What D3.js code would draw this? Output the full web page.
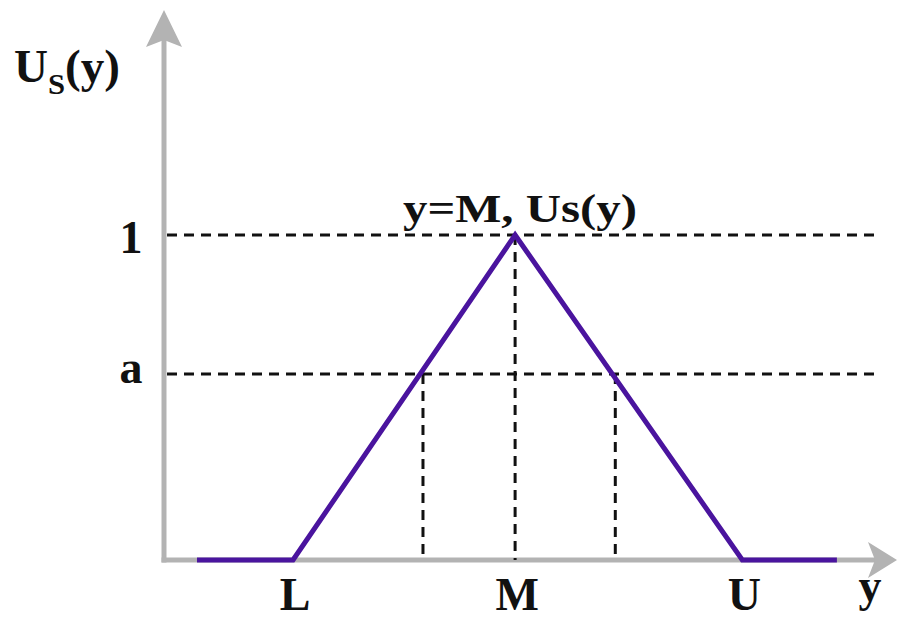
<!DOCTYPE html>
<html>
<head>
<meta charset="utf-8">
<script src="https://cdn.jsdelivr.net/npm/d3@7"></script>
<style>
  body { margin: 0; background: #fff; }
  svg text { font-family: "Liberation Serif", "Times New Roman", serif; font-weight: bold; fill: #111; }
</style>
</head>
<body>
<svg id="chart" width="898" height="624"></svg>
<script>
// membership function breakpoints (x in arbitrary units 0..100, y = membership)
const xs = [4.5, 17.6, 47.9, 78.9, 91.8]
const ys = [0, 0, 1, 0, 0]
const alpha = 0.572
const xTicks = [{label: 'L', v: 17.6}, {label: 'M', v: 47.9}, {label: 'U', v: 78.9}]
const yTicks = [{label: '1', v: 1}, {label: 'a', v: alpha}]

const svg = d3.select('#chart')
const x = d3.scaleLinear().domain([0, 100]).range([164, 897])
const y = d3.scaleLinear().domain([0, 1]).range([560, 235])

const axisColor = '#b3b3b3'
const purple = '#4a149e'

// axes
svg.append('line')
  .attr('x1', x(0)).attr('x2', x(0))
  .attr('y1', y(0) + 2.5).attr('y2', y(1.6))
  .attr('stroke', axisColor).attr('stroke-width', 5)
svg.append('path')
  .attr('d', `M${x(0)},10 L${x(0) - 18},47 L${x(0)},40 L${x(0) + 18},47 Z`)
  .attr('fill', axisColor)

svg.append('line')
  .attr('x1', x(0) - 2.5).attr('x2', x(98))
  .attr('y1', y(0)).attr('y2', y(0))
  .attr('stroke', axisColor).attr('stroke-width', 5)
svg.append('path')
  .attr('d', `M${x(100)},${y(0)} L${x(100) - 29},${y(0) - 18} L${x(100) - 22},${y(0)} L${x(100) - 29},${y(0) + 18} Z`)
  .attr('fill', axisColor)

// dashed guide lines
const dash = '10,7'
yTicks.forEach(t => {
  svg.append('line')
    .attr('x1', x(0) + 3).attr('x2', x(97))
    .attr('y1', y(t.v)).attr('y2', y(t.v))
    .attr('stroke', '#111').attr('stroke-width', 3)
    .attr('stroke-dasharray', dash)
})

// where the triangle crosses level a
const xa1 = xs[1] + alpha * (xs[2] - xs[1]) + 0.4
const xa2 = xs[3] - alpha * (xs[3] - xs[2]) + 0.4
;[[xa1, alpha], [xs[2], 1], [xa2, alpha]].forEach(([vx, vy]) => {
  svg.append('line')
    .attr('x1', x(vx)).attr('x2', x(vx))
    .attr('y1', y(vy)).attr('y2', y(0))
    .attr('stroke', '#111').attr('stroke-width', 3)
    .attr('stroke-dasharray', dash)
})

// triangular membership line
const line = d3.line().x((d, i) => x(xs[i])).y(d => y(d))
svg.append('path')
  .attr('d', line(ys))
  .attr('fill', 'none')
  .attr('stroke', purple)
  .attr('stroke-width', 5)
  .attr('stroke-linejoin', 'miter')

// labels
svg.selectAll('.xl')
  .data(xTicks)
  .join('text')
  .attr('x', d => x(d.v) + 2)
  .attr('y', 610)
  .attr('text-anchor', 'middle')
  .attr('font-size', 46)
  .text(d => d.label)

svg.append('text')
  .attr('x', 870).attr('y', 601)
  .attr('text-anchor', 'middle')
  .attr('font-size', 46)
  .text('y')

svg.selectAll('.yl')
  .data(yTicks)
  .join('text')
  .attr('x', 131)
  .attr('y', d => y(d.v) + (d.label === '1' ? 18 : 9))
  .attr('text-anchor', 'middle')
  .attr('font-size', 46)
  .text(d => d.label)

// peak annotation
svg.append('text')
  .attr('x', 403).attr('y', 222)
  .attr('font-size', 41)
  .attr('textLength', 234)
  .attr('lengthAdjust', 'spacingAndGlyphs')
  .text('y=M, Us(y)')

// y-axis title U_S(y)
const title = svg.append('text').attr('x', 14).attr('y', 82).attr('font-size', 46)
  .attr('textLength', 106).attr('lengthAdjust', 'spacingAndGlyphs')
title.append('tspan').text('U')
title.append('tspan').attr('font-size', 30).attr('dy', 12).text('S')
title.append('tspan').attr('dy', -12).text('(y)')
</script>
</body>
</html>
